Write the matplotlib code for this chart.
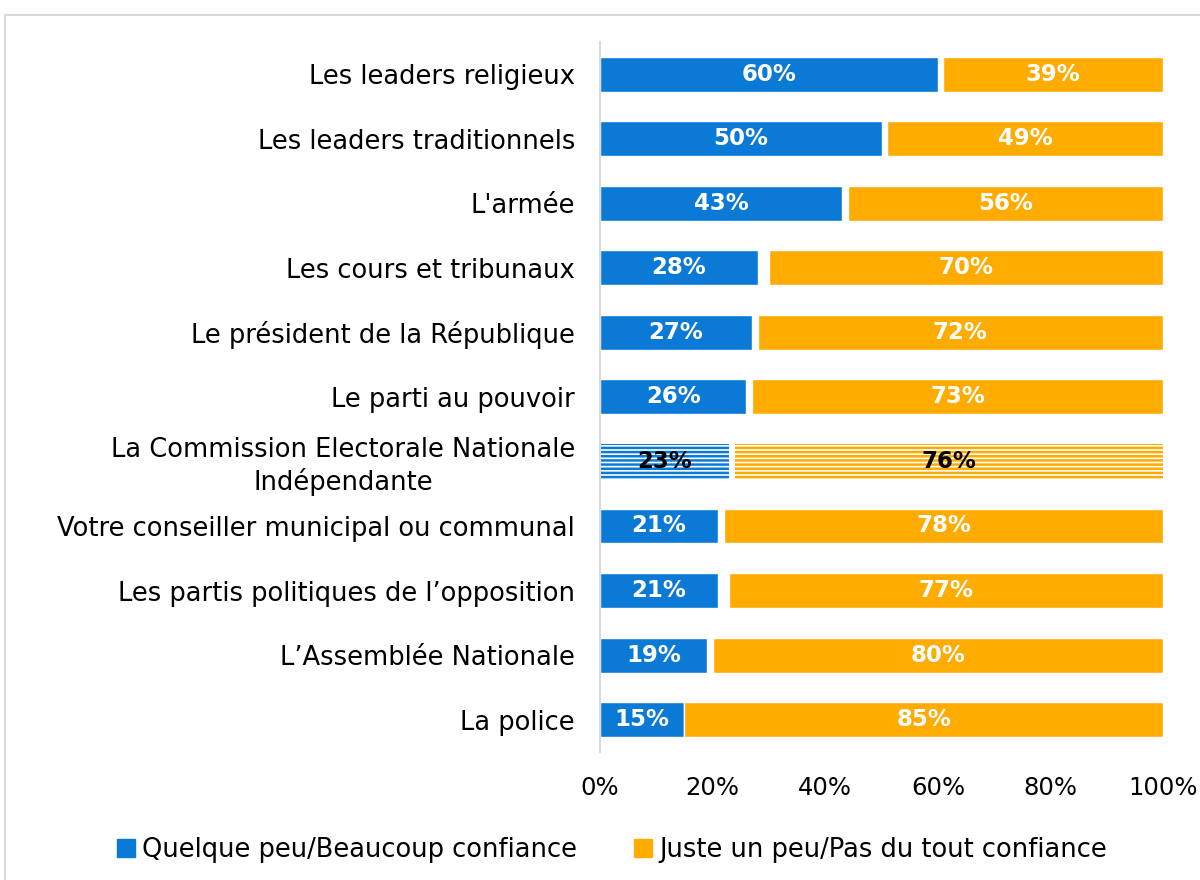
import matplotlib.pyplot as plt
from matplotlib.patches import Rectangle

# Data
institutions = [
    "Les leaders religieux",
    "Les leaders traditionnels",
    "L'armée",
    "Les cours et tribunaux",
    "Le président de la République",
    "Le parti au pouvoir",
    "La Commission Electorale Nationale\nIndépendante",
    "Votre conseiller municipal ou communal",
    "Les partis politiques de l\u2019opposition",
    "L\u2019Assemblée Nationale",
    "La police",
]
confiance = [60, 50, 43, 28, 27, 26, 23, 21, 21, 19, 15]
pas_confiance = [39, 49, 56, 70, 72, 73, 76, 78, 77, 80, 85]
hatched_row = 6

blue = "#0A7AD6"
orange = "#FFAB00"

plt.rcParams["font.family"] = ["DejaVu Sans"]
plt.rcParams["hatch.linewidth"] = 1.8

fig = plt.figure(figsize=(12, 8.8), dpi=100)
ax = fig.add_axes([0.5, 0.1455, 0.4692, 0.807])

# outer frame
fig.patches.append(Rectangle((5 / 1200, -0.1), 1.1, (880 - 15) / 880 + 0.1,
                             transform=fig.transFigure, fill=False,
                             edgecolor="#D9D9D9", linewidth=1.5))

ypos = list(range(len(institutions)))
height = 0.54

for i in ypos:
    left_orange = 100 - pas_confiance[i]
    if i == hatched_row:
        ax.barh(i, confiance[i], height=height, color="white",
                edgecolor=blue, hatch="----", linewidth=0)
        ax.barh(i, pas_confiance[i], left=left_orange, height=height,
                color="white", edgecolor=orange, hatch="----", linewidth=0)
        txt_color = "black"
    else:
        ax.barh(i, confiance[i], height=height, color=blue,
                edgecolor="white", linewidth=1)
        ax.barh(i, pas_confiance[i], left=left_orange, height=height,
                color=orange, edgecolor="white", linewidth=1)
        txt_color = "white"
    ax.text(confiance[i] / 2, i, f"{confiance[i]}%", ha="center",
            va="center", color=txt_color, fontsize=16.5, fontweight="bold")
    ax.text(left_orange + pas_confiance[i] / 2, i, f"{pas_confiance[i]}%",
            ha="center", va="center", color=txt_color, fontsize=16.5,
            fontweight="bold")

ax.set_xlim(0, 100)
ax.set_ylim(len(institutions) - 0.5, -0.5)
ax.set_yticks(ypos)
ax.set_yticklabels(institutions, fontsize=18.5, multialignment="center")
ax.set_xticks([0, 20, 40, 60, 80, 100])
ax.set_xticklabels([f"{v}%" for v in [0, 20, 40, 60, 80, 100]], fontsize=17.5)
ax.tick_params(axis="both", length=0)
ax.tick_params(axis="y", pad=18)
ax.tick_params(axis="x", pad=17)

for side in ["top", "right", "bottom"]:
    ax.spines[side].set_visible(False)
ax.spines["left"].set_color("#D9D9D9")
ax.spines["left"].set_linewidth(1.5)

handles = [Rectangle((0, 0), 1, 1, color=blue),
           Rectangle((0, 0), 1, 1, color=orange)]
fig.legend(handles, ["Quelque peu/Beaucoup confiance",
                     "Juste un peu/Pas du tout confiance"],
           loc="center", bbox_to_anchor=(0.51, 1 - 850 / 880), ncol=2,
           frameon=False, fontsize=18.5, handlelength=0.7, handleheight=0.7,
           handletextpad=0.3, columnspacing=2.2)

fig.savefig("out.png", dpi=100)
